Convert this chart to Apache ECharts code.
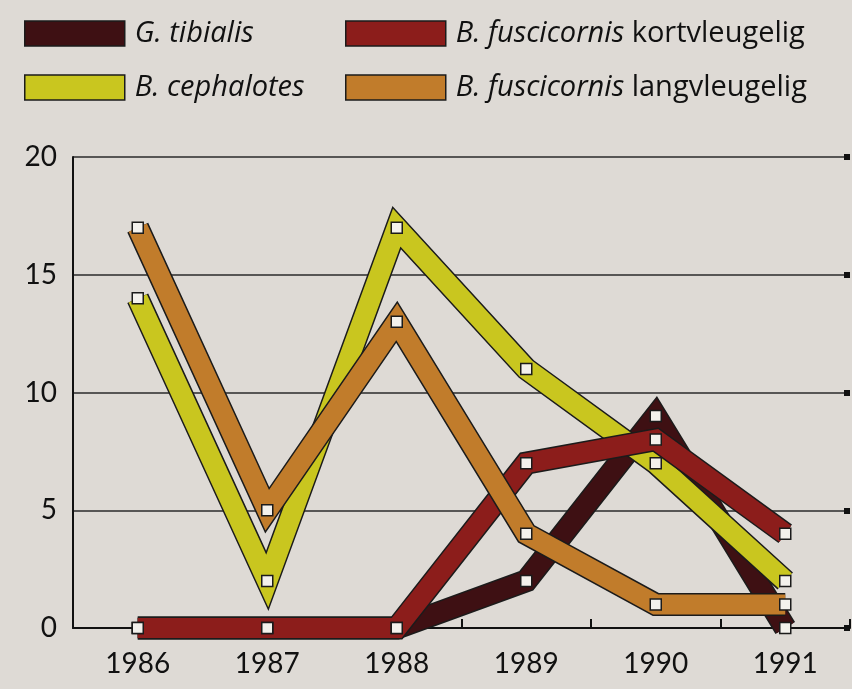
<!DOCTYPE html>
<html lang="nl">
<head>
    <meta charset="UTF-8">
    <title>Vangsten per jaar</title>
    <script src="https://cdn.jsdelivr.net/npm/echarts@6/dist/echarts.min.js"></script>
    <style>
        html, body {
            margin: 0;
            padding: 0;
            background: #dedad5;
        }

        #chart {
            width: 852px;
            height: 689px;
        }
    </style>
</head>
<body>
<div id="chart"></div>
<script type="text/javascript">
    // jaren op de x-as
    var years = ['1986', '1987', '1988', '1989', '1990', '1991'];
    // aantallen per soort
    var tibialis = [0, 0, 0, 2, 9, 0];
    var cephalotes = [14, 2, 17, 11, 7, 2];
    var kortvleugelig = [0, 0, 0, 7, 8, 4];
    var langvleugelig = [17, 5, 13, 4, 1, 1];

    var names = ['G. tibialis', 'B. cephalotes', 'B. fuscicornis kortvleugelig', 'B. fuscicornis langvleugelig'];
    var colors = ['#3e1013', '#c9c61f', '#8c1d1b', '#c17c2b'];
    var values = [tibialis, cephalotes, kortvleugelig, langvleugelig];

    var myChart = echarts.init(document.getElementById('chart'));

    var series = [];
    // brede banden met zwarte rand (eerst zwart, dan de kleur erop)
    for (var i = 0; i < values.length; i++) {
        series.push({
            name: 'rand' + i,
            type: 'line',
            data: values[i],
            symbol: 'none',
            clip: false,
            silent: true,
            lineStyle: {color: '#1b1b1b', width: 23, cap: 'butt', join: 'miter', miterLimit: 20}
        });
        series.push({
            name: names[i],
            type: 'line',
            data: values[i],
            symbol: 'none',
            clip: false,
            color: colors[i],
            lineStyle: {color: colors[i], width: 20, cap: 'butt', join: 'miter', miterLimit: 20}
        });
    }
    // witte vierkantjes op de meetpunten
    for (var j = 0; j < values.length; j++) {
        series.push({
            name: 'punt' + j,
            type: 'scatter',
            data: values[j],
            symbol: 'rect',
            symbolSize: 11,
            z: 10,
            itemStyle: {color: '#f3f1ec', borderColor: '#1b1b1b', borderWidth: 1.5, opacity: 1}
        });
    }

    function legendItem(k) {
        return {
            name: names[k],
            icon: 'rect',
            itemStyle: {color: colors[k], borderColor: '#1b1b1b', borderWidth: 1.5}
        };
    }

    var legendText = {
        fontFamily: 'Open Sans',
        fontSize: 29,
        color: '#111',
        padding: [0, 0, 0, 5],
        rich: {
            i: {fontFamily: 'Open Sans', fontSize: 29, fontStyle: 'italic', color: '#111'},
            n: {fontFamily: 'Open Sans', fontSize: 29, color: '#111'}
        }
    };

    function legendFormatter(name) {
        var parts = name.split(' ');
        if (parts.length > 2) {
            return '{i|' + parts[0] + ' ' + parts[1] + '} {n|' + parts.slice(2).join(' ') + '}';
        }
        return '{i|' + name + '}';
    }

    var option = {
        backgroundColor: '#dedad5',
        animation: false,
        legend: [
            {
                orient: 'vertical',
                left: 19,
                top: 14,
                itemWidth: 100,
                itemHeight: 25,
                itemGap: 25,
                selectedMode: false,
                formatter: legendFormatter,
                textStyle: legendText,
                data: [legendItem(0), legendItem(1)]
            },
            {
                orient: 'vertical',
                left: 340,
                top: 14,
                itemWidth: 100,
                itemHeight: 25,
                itemGap: 25,
                selectedMode: false,
                formatter: legendFormatter,
                textStyle: legendText,
                data: [legendItem(2), legendItem(3)]
            }
        ],
        grid: {left: 73, right: 2, top: 157, bottom: 61},
        xAxis: {
            type: 'category',
            data: years,
            boundaryGap: true,
            axisLine: {lineStyle: {color: '#111', width: 2}},
            axisTick: {show: true, inside: true, length: 9, lineStyle: {color: '#111', width: 2}},
            axisLabel: {fontFamily: 'Lato', fontSize: 28, color: '#111', margin: 22}
        },
        yAxis: [
            {
                type: 'value',
                min: 0,
                max: 20,
                interval: 5,
                axisLine: {show: true, lineStyle: {color: '#111', width: 2}},
                axisTick: {show: false},
                axisLabel: {fontFamily: 'Lato', fontSize: 28, color: '#111', margin: 16},
                splitLine: {lineStyle: {color: '#2a2a2a', width: 1.5}}
            },
            {
                type: 'value',
                position: 'right',
                min: 0,
                max: 20,
                interval: 5,
                axisLine: {show: false},
                axisTick: {show: true, inside: true, length: 6, lineStyle: {color: '#111', width: 6}},
                axisLabel: {show: false},
                splitLine: {show: false}
            }
        ],
        series: series
    };
    myChart.setOption(option);
</script>
</body>
</html>
